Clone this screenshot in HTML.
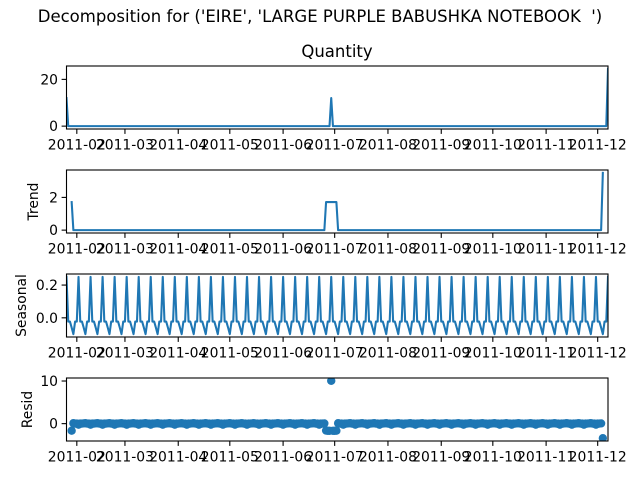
<!DOCTYPE html>
<html><head><meta charset="utf-8">
<style>
html,body{margin:0;padding:0;background:#fff;}
svg{display:block;font-family:"DejaVu Sans","Liberation Sans",sans-serif;}
</style></head>
<body>
<svg id="fig" width="640" height="480" viewBox="0 0 640 480" xmlns="http://www.w3.org/2000/svg">
<rect width="640" height="480" fill="#fff"/>
<text x="320" y="22" text-anchor="middle" font-size="16.5" fill="#000" xml:space="preserve" style="white-space:pre">Decomposition for ('EIRE', 'LARGE PURPLE BABUSHKA NOTEBOOK  ')</text>
<text x="337" y="57" text-anchor="middle" font-size="16.5" fill="#000">Quantity</text>
</svg>
<script>
// ---- data ----
const startDate = "2011-01-26";
const numDays = 316;
// nonzero observed quantities (day index, quantity)
const spikeDays = [0, 154, 315];
const spikeQty = [12, 12, 24.5];
const period = 7;
const monthTicks = ["2011-02","2011-03","2011-04","2011-05","2011-06","2011-07","2011-08","2011-09","2011-10","2011-11","2011-12"];
const ticksObserved = [0, 20];
const ticksTrend = [0, 2];
const ticksSeasonal = [0.0, 0.2];
const ticksResid = [0, 10];

// ---- build series (seasonal_decompose additive) ----
const observed = new Array(numDays).fill(0);
spikeDays.forEach((d,i)=>{ observed[d] = spikeQty[i]; });
const half = Math.floor(period/2);
const trend = observed.map((v,i)=>{
  if (i<half || i>=numDays-half) return null;
  let s=0; for(let k=-half;k<=half;k++) s+=observed[i+k]; return s/period;
});
const phaseSum = new Array(period).fill(0), phaseCnt = new Array(period).fill(0);
observed.forEach((v,i)=>{ if(trend[i]!==null){ phaseSum[i%period]+=v-trend[i]; phaseCnt[i%period]++; }});
let phaseAvg = phaseSum.map((s,p)=>s/phaseCnt[p]);
const pm = phaseAvg.reduce((a,b)=>a+b,0)/period;
phaseAvg = phaseAvg.map(v=>v-pm);
const seasonal = observed.map((v,i)=>phaseAvg[i%period]);
const resid = observed.map((v,i)=> trend[i]===null ? null : v - trend[i] - seasonal[i]);

// ---- layout ----
const NS="http://www.w3.org/2000/svg";
const svg=document.getElementById('fig');
const L=66.5, R=608;
const t0 = Date.parse(startDate+"T00:00:00Z");
const DAY=86400000;
const tEnd = t0 + (numDays-1)*DAY;
function xOfTime(t){ return L + (t-t0)/(tEnd-t0)*(R-L); }
function xOfIdx(i){ return xOfTime(t0+i*DAY); }
const C="#1f77b4";

function mk(tag, attrs, parent){
  const e=document.createElementNS(NS,tag);
  for(const k in attrs) e.setAttribute(k,attrs[k]);
  (parent||svg).appendChild(e); return e;
}
function autoLim(arr){
  const v=arr.filter(x=>x!==null);
  const mn=Math.min(...v), mx=Math.max(...v), m=(mx-mn)*0.05;
  return [mn-m, mx+m];
}

const panels = [
  {name:"observed", top:66, bot:129, data:observed, ticks:ticksObserved, fmt:v=>String(v), label:null, kind:"line"},
  {name:"trend", top:170, bot:233, data:trend, ticks:ticksTrend, fmt:v=>String(v), label:"Trend", kind:"line", lx:34},
  {name:"seasonal", top:274, bot:337, data:seasonal, ticks:ticksSeasonal, fmt:v=>v.toFixed(1), label:"Seasonal", kind:"line", lx:22},
  {name:"resid", top:378, bot:441, data:resid, ticks:ticksResid, fmt:v=>String(v), label:"Resid", kind:"dots", lx:28}
];

panels.forEach((p,pi)=>{
  const g=mk('g',{});
  
  
  const [y0,y1]=autoLim(p.data);
  const yOf=v=> p.bot - (v-y0)/(y1-y0)*(p.bot-p.top);
  const clipId='clip'+pi;
  const cp=mk('clipPath',{id:clipId},g);
  mk('rect',{x:L,y:p.top,width:R-L,height:p.bot-p.top},cp);
  const dg=mk('g',{'clip-path':'url(#'+clipId+')'},g);
  if(p.kind==="line"){
    let d="", pen=false;
    p.data.forEach((v,i)=>{
      if(v===null){pen=false;return;}
      d+=(pen?"L":"M")+xOfIdx(i).toFixed(2)+" "+yOf(v).toFixed(2);
      pen=true;
    });
    const path=mk('path',{d:d,fill:'none',stroke:C,'stroke-width':2.08,'stroke-linejoin':'round','stroke-linecap':'square'},dg);
    
    
  } else {
    p.data.forEach((v,i)=>{
      if(v===null) return;
      const c=mk('circle',{cx:xOfIdx(i).toFixed(2),cy:yOf(v).toFixed(2),r:4.17,fill:C},dg);
      
      
    });
  }
  const fr=mk('rect',{x:L,y:p.top,width:R-L,height:p.bot-p.top,fill:'none',stroke:'#000','stroke-width':1.1},g);
  
  
  p.ticks.forEach(tv=>{
    const y=yOf(tv);
    mk('line',{x1:L-4.9,x2:L,y1:y,y2:y,stroke:'#000','stroke-width':1.1},g);
    const t=mk('text',{x:L-8.5,y:y+5,'text-anchor':'end','font-size':13.9,fill:'#000'},g);
    t.textContent=p.fmt(tv);
    
    
  });
  monthTicks.forEach(m=>{
    const x=xOfTime(Date.parse(m+"-01T00:00:00Z"));
    mk('line',{x1:x,x2:x,y1:p.bot,y2:p.bot+4.9,stroke:'#000','stroke-width':1.1},g);
    const t=mk('text',{x:x,y:p.bot+20.5,'text-anchor':'middle','font-size':13.9,fill:'#000'},g);
    t.textContent=m;
    
    
  });
  if(p.label){
    const cy=(p.top+p.bot)/2;
    const t=mk('text',{x:p.lx,y:cy,'text-anchor':'middle','font-size':13.9,fill:'#000',transform:'rotate(-90 '+p.lx+' '+cy+')','dominant-baseline':'central'},g);
    t.textContent=p.label;
    
    
  }
});
</script>
</body></html>
